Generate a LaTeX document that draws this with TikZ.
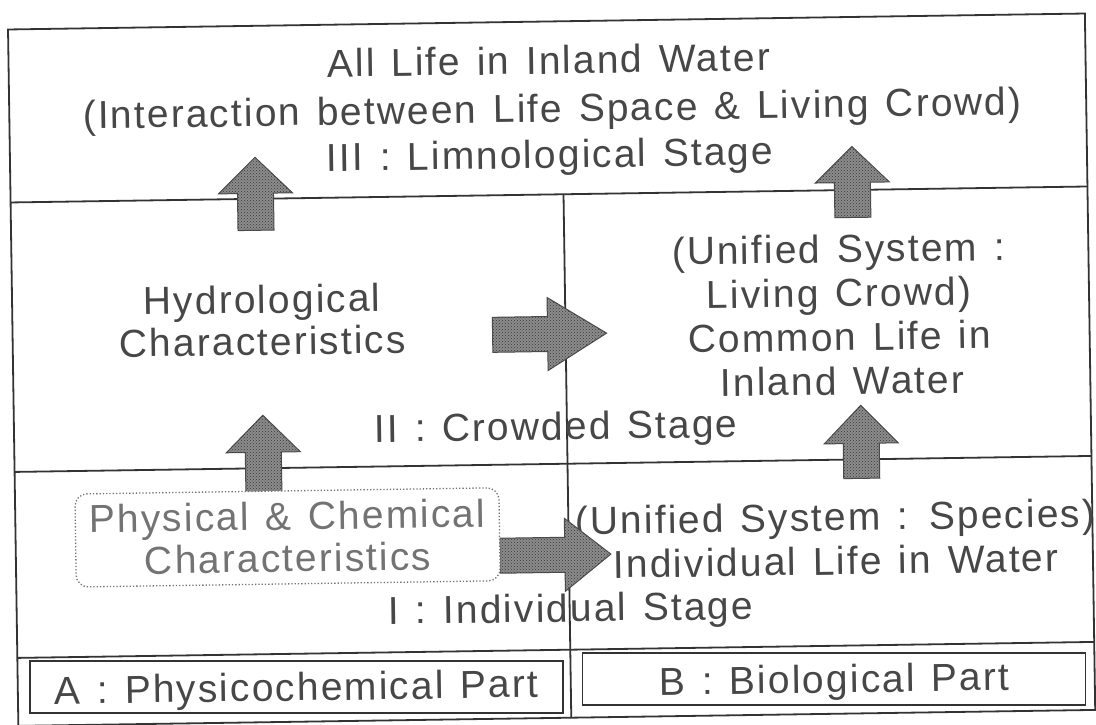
\documentclass[tikz,border=0pt]{standalone}
\usepackage{fontspec}
\setmainfont{Liberation Sans}[LetterSpace=5.2, WordSpace=1.3]
\usetikzlibrary{patterns}
\tikzset{
  frame/.style={draw=black!80, line width=1.8pt},
  txt/.style={anchor=base, inner sep=0pt, text=black!72, font=\fontsize{39}{44}\selectfont, transform shape},
  lighttxt/.style={txt, text=black!55},
  blk/.style={draw=black!70, line width=1pt, fill=black!45, postaction={pattern=crosshatch dots, pattern color=black!78}},
  partbox/.style={draw=black!80, line width=1.5pt},
  pcbox/.style={draw=black!55, dotted, line width=1.3pt, rounded corners=12pt, fill=white, inner sep=0pt, transform shape},
}
\newcommand{\blkup}[4]{\path[blk] (#1-18,#4) -- (#1-18,#3) -- (#1-37,#3) -- (#1,#2) -- (#1+37,#3) -- (#1+18,#3) -- (#1+18,#4) -- cycle;}
\newcommand{\blkright}[4]{\path[blk] (#2,#1-17.5) -- (#3,#1-17.5) -- (#3,#1-36.5) -- (#4,#1) -- (#3,#1+36.5) -- (#3,#1+17.5) -- (#2,#1+17.5) -- cycle;}
\begin{document}
\begin{tikzpicture}[x=1pt,y=-1pt]
\useasboundingbox[fill=white] (0,0) rectangle (1096,724);
\begin{scope}[rotate around={0.85:(548,362)}]
  % frame and dividers
  \draw[frame] (13,21.5) rectangle (1090,718);
  \draw[frame] (13,194.5) -- (1090,194.5);
  \draw[frame] (13,464) -- (1090,464);
  \draw[frame] (13,650) -- (1090,650);
  \draw[frame] (566,194.5) -- (566,718);
  % part boxes
  \node[partbox, minimum width=533, minimum height=52, inner sep=0pt] (pa) at (291.5,683) {};
  \node[partbox, minimum width=503, minimum height=52, inner sep=0pt] (pb) at (829.5,683) {};
  % texts
  \node[txt] (t1) at (553,74) {All Life in Inland Water};
  \node[txt] (t2) at (556,122) {(Interaction between Life Space \& Living Crowd)};
  \node[txt] (t3) at (553,168) {III : Limnological Stage};
  \node[txt] (h1) at (263,309) {Hydrological};
  \node[txt] (h2) at (263,351) {Characteristics};
  \node[txt] (u1) at (840,267) {(Unified System :};
  \node[txt] (u2) at (840,311) {Living Crowd)};
  \node[txt] (u3) at (840,355) {Common Life in};
  \node[txt] (u4) at (842,399) {Inland Water};
  \node[txt] (s2) at (555,440) {II : Crowded Stage};
  \node[txt] (v1) at (833,535) {(Unified System : Species)};
  \node[txt] (v2) at (833,579) {Individual Life in Water};
  \node[txt] (s1) at (567,622) {I : Individual Stage};
  \node[txt] (la) at (291.5,697) {A : Physicochemical Part};
  \node[txt] (lb) at (829.5,697) {B : Biological Part};
  % block arrows
  \blkup{258}{153}{189}{226}
  \blkup{855}{151}{187}{222}
  \blkright{334}{493}{548}{607}
  \blkup{262}{411}{448}{492}
  \blkright{555}{497}{562}{608}
  \blkup{860}{410}{448}{483}
  % physical & chemical box
  \node[pcbox, minimum width=424, minimum height=93] (pc) at (285,533.5) {};
  \node[lighttxt] (p1) at (285,526) {Physical \& Chemical};
  \node[lighttxt] (p2) at (285,568) {Characteristics};
\end{scope}
\end{tikzpicture}
\end{document}
